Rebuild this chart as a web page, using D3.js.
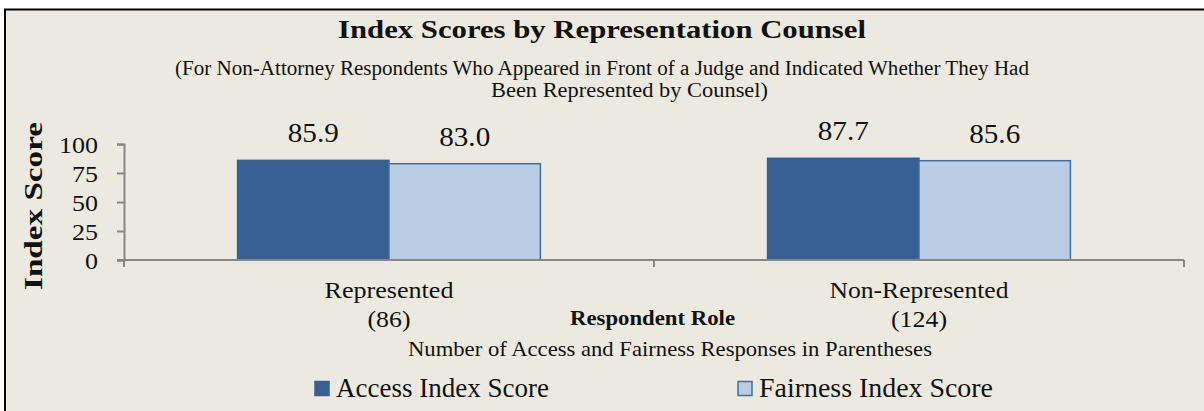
<!DOCTYPE html>
<html lang="en">
<head>
  <meta charset="UTF-8">
  <title>Index Scores by Representation Counsel</title>
  <style>
    body {
      margin: 0;
      background: #fff;
      overflow: hidden;
    }
    svg text {
      font-family: "Liberation Serif", "Times New Roman", serif;
      fill: #111;
    }
  </style>
</head>
<body>
  <svg id="chart" width="1204" height="411"></svg>

  <script src="https://d3js.org/d3.v7.min.js"></script>
  <script>
    // --- data ---
    const categories = ["Represented", "Non-Represented"];
    const counts = ["(86)", "(124)"];
    const seriesNames = ["Access Index Score", "Fairness Index Score"];
    const accessScores = [85.9, 87.7];
    const fairnessScores = [83.0, 85.6];
    const yTicks = [0, 25, 50, 75, 100];

    const seriesValues = [accessScores, fairnessScores];
    const fills = ["#366092", "#B9CDE5"];
    const strokes = ["#366092", "#3F6FA8"];

    const svg = d3.select("#chart");

    // background frame (runs off the right and bottom of the picture)
    svg.append("rect")
      .attr("x", 5).attr("y", 9.5)
      .attr("width", 1300).attr("height", 500)
      .attr("fill", "#ECEAE0")
      .attr("stroke", "#000")
      .attr("stroke-width", 2);

    // stretch a text horizontally to the width it has in the original
    function fit(sel, w) {
      sel.attr("textLength", w).attr("lengthAdjust", "spacingAndGlyphs");
      return sel;
    }
    // widen by a factor (Cambria-ish digits are wider than Liberation's)
    function widen(sel, k) {
      sel.each(function() {
        const w = this.getComputedTextLength();
        d3.select(this).attr("textLength", w * k).attr("lengthAdjust", "spacingAndGlyphs");
      });
      return sel;
    }

    // --- scales ---
    const x0 = d3.scaleBand().domain(categories).range([124, 1184]);
    const x1 = d3.scaleBand().domain(seriesNames)
      .range([0, x0.bandwidth()]).paddingOuter(0.75);
    const y = d3.scaleLinear().domain([0, 100]).range([260, 144]);

    // --- titles ---
    fit(svg.append("text")
      .attr("x", 602).attr("y", 38)
      .attr("text-anchor", "middle")
      .attr("font-size", 25.5).attr("font-weight", "bold")
      .text("Index Scores by Representation Counsel"), 528);

    fit(svg.append("text")
      .attr("x", 602).attr("y", 74.5)
      .attr("text-anchor", "middle")
      .attr("font-size", 20.5)
      .text("(For Non-Attorney Respondents Who Appeared in Front of a Judge and Indicated Whether They Had"), 854);

    fit(svg.append("text")
      .attr("x", 629.5).attr("y", 96.5)
      .attr("text-anchor", "middle")
      .attr("font-size", 20.5)
      .text("Been Represented by Counsel)"), 277);

    // --- y axis ---
    const yAxis = svg.append("g")
      .attr("transform", "translate(124,0)")
      .call(d3.axisLeft(y).tickValues(yTicks).tickSize(7).tickPadding(19));
    yAxis.select(".domain").attr("stroke", "#868686").attr("stroke-width", 2);
    yAxis.selectAll(".tick line").attr("stroke", "#868686").attr("stroke-width", 2);
    yAxis.selectAll(".tick text")
      .attr("font-size", 23)
      .attr("fill", "#111")
      .attr("dy", "0.36em")
      .call(widen, 1.13);

    fit(svg.append("text")
      .attr("transform", "translate(42,206) rotate(-90)")
      .attr("text-anchor", "middle")
      .attr("font-size", 26).attr("font-weight", "bold")
      .text("Index Score"), 168);

    // --- bars ---
    const groups = svg.append("g").selectAll("g")
      .data(categories)
      .join("g")
      .attr("transform", d => `translate(${x0(d)},0)`);

    groups.selectAll("rect")
      .data((d, i) => seriesNames.map((s, j) => ({ s, j, v: seriesValues[j][i] })))
      .join("rect")
      .attr("x", d => x1(d.s))
      .attr("y", d => y(d.v))
      .attr("width", x1.bandwidth())
      .attr("height", d => y(0) - y(d.v))
      .attr("fill", d => fills[d.j])
      .attr("stroke", d => strokes[d.j])
      .attr("stroke-width", 1.5);

    groups.selectAll("text.val")
      .data((d, i) => seriesNames.map((s, j) => ({ s, j, v: seriesValues[j][i] })))
      .join("text")
      .attr("class", "val")
      .attr("x", d => x1(d.s) + x1.bandwidth() / 2)
      .attr("y", d => y(d.v) - 18)
      .attr("text-anchor", "middle")
      .attr("font-size", 27)
      .text(d => d.v.toFixed(1))
      .call(widen, 1.08);

    // --- x axis (ticks between categories, like the original) ---
    const xAxis = svg.append("g");
    xAxis.append("line")
      .attr("x1", 117).attr("x2", x0.range()[1])
      .attr("y1", y(0)).attr("y2", y(0))
      .attr("stroke", "#868686").attr("stroke-width", 2);
    const edges = categories.map(c => x0(c)).concat([x0.range()[1]]);
    xAxis.selectAll("line.tick")
      .data(edges)
      .join("line")
      .attr("class", "tick")
      .attr("x1", d => d).attr("x2", d => d)
      .attr("y1", y(0)).attr("y2", y(0) + 7)
      .attr("stroke", "#868686").attr("stroke-width", 2);

    const catWidths = [129, 179];
    const countWidths = [43, 56];
    categories.forEach((c, i) => {
      const cx = x0(c) + x0.bandwidth() / 2;
      fit(svg.append("text")
        .attr("x", cx).attr("y", 298)
        .attr("text-anchor", "middle")
        .attr("font-size", 24)
        .text(c), catWidths[i]);
      fit(svg.append("text")
        .attr("x", cx).attr("y", 327)
        .attr("text-anchor", "middle")
        .attr("font-size", 24)
        .text(counts[i]), countWidths[i]);
    });

    fit(svg.append("text")
      .attr("x", 652.5).attr("y", 325)
      .attr("text-anchor", "middle")
      .attr("font-size", 21).attr("font-weight", "bold")
      .text("Respondent Role"), 165);

    fit(svg.append("text")
      .attr("x", 670).attr("y", 356)
      .attr("text-anchor", "middle")
      .attr("font-size", 21)
      .text("Number of Access and Fairness Responses in Parentheses"), 524);

    // --- legend ---
    const legendX = [315, 738];
    const legendW = [213, 234];
    seriesNames.forEach((s, j) => {
      svg.append("rect")
        .attr("x", legendX[j]).attr("y", 381.5)
        .attr("width", 14).attr("height", 14)
        .attr("fill", fills[j])
        .attr("stroke", strokes[j]).attr("stroke-width", 1.5);
      fit(svg.append("text")
        .attr("x", legendX[j] + 21).attr("y", 397)
        .attr("font-size", 27.5)
        .text(s), legendW[j]);
    });
  </script>
</body>
</html>
